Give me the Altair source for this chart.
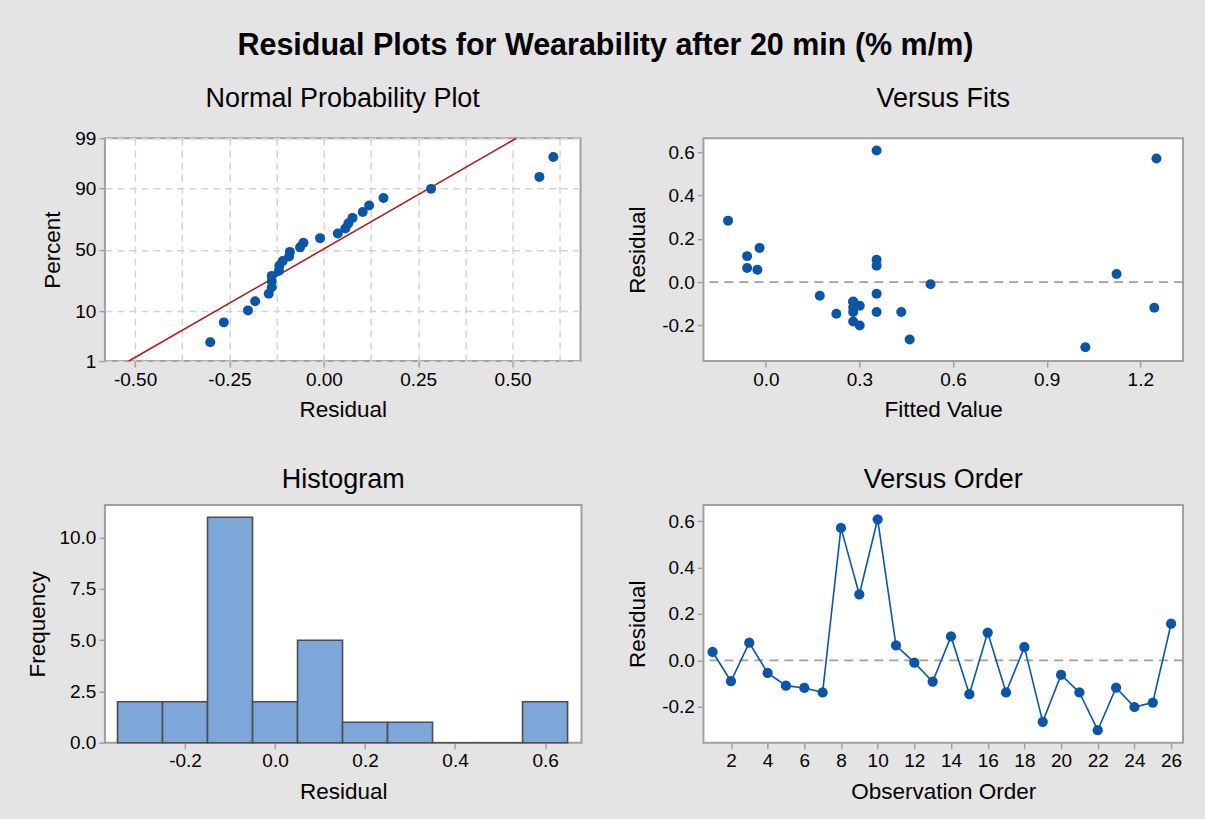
import altair as alt
import pandas as pd
import numpy as np
from statistics import NormalDist

# ---------------- data ----------------
ORDER = list(range(1, 27))
RESIDUALS = [0.037, -0.090, 0.076, -0.054, -0.109, -0.119, -0.138, 0.571, 0.284, 0.608,
             0.065, -0.010, -0.092, 0.103, -0.146, 0.120, -0.138, 0.057, -0.265, -0.063,
             -0.138, -0.301, -0.118, -0.201, -0.182, 0.158]
FITTED = [1.124, 0.280, 0.355, 0.355, 0.301, 1.245, 0.280, 1.252, -0.121, 0.355,
          -0.060, 0.528, 0.280, 0.355, 0.226, -0.060, 0.355, -0.027, 0.461, 0.173,
          0.434, 1.024, 0.280, 0.301, 0.280, -0.020]

PCT_TICKS = [1, 10, 50, 90, 99]
NP_X_GRID = [-0.5, -0.375, -0.25, -0.125, 0.0, 0.125, 0.25, 0.375, 0.5, 0.625]
FITS_X_TICKS = [0.0, 0.3, 0.6, 0.9, 1.2]
RESID_Y_TICKS = [-0.2, 0.0, 0.2, 0.4, 0.6]
HIST_X_TICKS = [-0.2, 0.0, 0.2, 0.4, 0.6]
HIST_Y_TICKS = [0.0, 2.5, 5.0, 7.5, 10.0]
ORDER_X_TICKS = list(range(2, 27, 2))
REF_LEVEL = [0.0]

TITLE = "Residual Plots for Wearability after 20 min (% m/m)"

# ---------------- styles ----------------
FONT = "Liberation Sans"
BLUE = "#0a55a5"
RED = "#a8201e"
BAR_FILL = "#7da7d9"
BAR_STROKE = "#4d4d4d"
FRAME = "#a0a0a0"
BG = "#e4e4e4"
GRID = "#d4d4d4"

df = pd.DataFrame({"order": ORDER, "residual": RESIDUALS, "fitted": FITTED})
N = len(RESIDUALS)
ref_df = pd.DataFrame({"ref": REF_LEVEL})

counts, edges = np.histogram(RESIDUALS, bins=10, range=(-0.35, 0.65))
hist_df = pd.DataFrame({"start": edges[:-1], "end": edges[1:], "count": counts})

z_ticks = [NormalDist().inv_cdf(p / 100.0) for p in PCT_TICKS]
z_lo, z_hi = z_ticks[0], z_ticks[-1]


def fmt(spec):
    return "replace(format(datum.value, '" + spec + "'), '\u2212', '-')"


def axis(**kw):
    base = dict(labelFont=FONT, labelFontSize=19, labelColor="black",
                titleFont=FONT, titleFontSize=22.5, titleFontWeight="normal",
                titleColor="black", tickColor=FRAME, tickSize=6, tickWidth=1.5,
                domain=False, grid=False, labelPadding=3)
    base.update(kw)
    return alt.Axis(**base)


def ptitle(text, offset):
    return alt.TitleParams(text=text, font=FONT, fontSize=27, fontWeight="normal",
                           color="black", anchor="middle", offset=offset)


# ---------------- Normal probability plot ----------------
major_test = "abs(datum.value*4 - round(datum.value*4)) < 0.000001"
np_x_axis = axis(values=NP_X_GRID, title="Residual", grid=True, gridDash=[7, 5],
                 gridColor=GRID, gridWidth=1.5, titlePadding=10,
                 labelExpr=major_test + " ? " + fmt(".2f") + " : ''",
                 tickOpacity={"condition": {"test": major_test, "value": 1}, "value": 0})
np_y_axis = axis(values=z_ticks, title="Percent", grid=True, gridDash=[7, 5],
                 gridColor=GRID, gridWidth=1.5, titlePadding=10,
                 labelExpr="format(cumulativeNormal(datum.value)*100, '.0f')")
np_xs = alt.Scale(domain=[-0.58, 0.68], nice=False, zero=False)
np_ys = alt.Scale(domain=[z_lo, z_hi], nice=False, zero=False)

np_pts = alt.Chart(df).transform_window(
    rank="row_number()", sort=[alt.SortField("residual", order="ascending")]
).transform_calculate(
    z=f"quantileNormal((datum.rank - 0.3) / ({N} + 0.4))"
).mark_circle(size=100, color=BLUE, opacity=1).encode(
    x=alt.X("residual:Q", scale=np_xs, axis=np_x_axis),
    y=alt.Y("z:Q", scale=np_ys, axis=np_y_axis),
)

np_line = alt.Chart(df).transform_aggregate(
    m="mean(residual)", s="stdev(residual)"
).transform_calculate(
    xa=f"datum.m + datum.s * ({z_lo})", xb=f"datum.m + datum.s * ({z_hi})",
    ya=f"{z_lo}", yb=f"{z_hi}"
).mark_rule(color=RED, strokeWidth=1.6).encode(
    x=alt.X("xa:Q", scale=np_xs, axis=np_x_axis), x2="xb:Q",
    y=alt.Y("ya:Q", scale=np_ys, axis=np_y_axis), y2="yb:Q",
)

np_chart = alt.layer(np_line, np_pts).properties(
    width=476, height=223, title=ptitle("Normal Probability Plot", 16))

# ---------------- Versus fits ----------------
fx = alt.Scale(domain=[-0.2, 1.337], nice=False, zero=False)
fy = alt.Scale(domain=[-0.365, 0.665], nice=False, zero=False)
fx_axis = axis(values=FITS_X_TICKS, labelExpr=fmt(".1f"), title="Fitted Value", titlePadding=10)
fy_axis = axis(values=RESID_Y_TICKS, labelExpr=fmt(".1f"), title="Residual", titlePadding=12)

fits_ref = alt.Chart(ref_df).mark_rule(color=FRAME, strokeDash=[9, 6], strokeWidth=1.6).encode(
    y=alt.Y("ref:Q", scale=fy, axis=fy_axis))
fits_pts = alt.Chart(df).mark_circle(size=100, color=BLUE, opacity=1).encode(
    x=alt.X("fitted:Q", scale=fx, axis=fx_axis),
    y=alt.Y("residual:Q", scale=fy, axis=fy_axis))
fits_chart = alt.layer(fits_ref, fits_pts).properties(
    width=480, height=223, title=ptitle("Versus Fits", 25))

# ---------------- Histogram ----------------
hx = alt.Scale(domain=[-0.378, 0.681], nice=False, zero=False)
hy = alt.Scale(domain=[0, 11.6], nice=False, zero=False)
hist_chart = alt.Chart(hist_df).mark_bar(
    color=BAR_FILL, stroke=BAR_STROKE, strokeWidth=1.6, opacity=1
).encode(
    x=alt.X("start:Q", scale=hx, axis=axis(values=HIST_X_TICKS, labelExpr=fmt(".1f"),
                                         title="Residual", titlePadding=10)),
    x2="end:Q",
    y=alt.Y("count:Q", scale=hy, axis=axis(values=HIST_Y_TICKS, labelExpr=fmt(".1f"),
                                         title="Frequency", titlePadding=9)),
    y2=alt.datum(0),
).properties(width=477, height=238, title=ptitle("Histogram", 11))

# ---------------- Versus order ----------------
ox = alt.Scale(domain=[0.5, 26.65], nice=False, zero=False)
oy = alt.Scale(domain=[-0.355, 0.67], nice=False, zero=False)
ox_axis = axis(values=ORDER_X_TICKS, labelExpr="format(datum.value, 'd')",
               title="Observation Order", titlePadding=10)
oy_axis = axis(values=RESID_Y_TICKS, labelExpr=fmt(".1f"), title="Residual", titlePadding=12)

order_ref = alt.Chart(ref_df).mark_rule(color=FRAME, strokeDash=[9, 6], strokeWidth=1.6).encode(
    y=alt.Y("ref:Q", scale=oy, axis=oy_axis))
order_line = alt.Chart(df).mark_line(color=BLUE, strokeWidth=1.6).encode(
    x=alt.X("order:Q", scale=ox, axis=ox_axis),
    y=alt.Y("residual:Q", scale=oy, axis=oy_axis))
order_pts = alt.Chart(df).mark_circle(size=105, color=BLUE, opacity=1).encode(
    x=alt.X("order:Q", scale=ox, axis=ox_axis),
    y=alt.Y("residual:Q", scale=oy, axis=oy_axis))
order_chart = alt.layer(order_ref, order_line, order_pts).properties(
    width=480, height=238, title=ptitle("Versus Order", 11))

# ---------------- assemble ----------------
chart = alt.concat(
    np_chart, fits_chart, hist_chart, order_chart,
    columns=2, bounds="flush", align="each",
    spacing={"row": 144, "column": 122},
).properties(
    title=alt.TitleParams(text=TITLE, font=FONT, fontSize=30.5, fontWeight="bold",
                          color="black", anchor="middle", offset=23),
    padding={"left": 26, "top": 30, "right": 20, "bottom": 14},
    background=BG,
).configure_view(stroke=FRAME, strokeWidth=2, fill="white")

chart.save("out.html", embed_options={"renderer": "svg", "actions": False})
